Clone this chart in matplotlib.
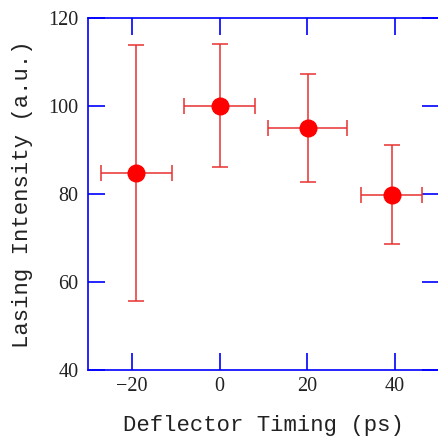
import numpy as np
import matplotlib.pyplot as plt

# data
timing = [-19, 0, 20.1, 39.2]
timing_err = [8.1, 8.1, 9.0, 7.0]
intensity = [84.7, 100.0, 95.1, 79.8]
err_up = [29.2, 14.1, 12.2, 11.3]
err_down = [29.0, 13.9, 12.3, 11.2]

fig = plt.figure(figsize=(4.39, 4.37), dpi=100)
ax = fig.add_axes([0.2005, 0.1533, 0.7995, 0.8055])

ax.errorbar(timing, intensity, xerr=timing_err, yerr=[err_down, err_up],
            fmt='o', color='red', ecolor='#e83030', elinewidth=1.1,
            capsize=6, capthick=1.1, markersize=12)

ax.set_xlim(-30, 50)
ax.set_ylim(40, 120)
ax.set_xticks([-20, 0, 20, 40])
ax.set_yticks([40, 60, 80, 100, 120])

for sp in ax.spines.values():
    sp.set_color('blue')
    sp.set_linewidth(1.2)

ax.tick_params(direction='in', length=12, width=1.2, color='blue',
               top=True, right=True, labelsize=14.5)
ax.tick_params(axis='y', pad=7)
ax.tick_params(axis='x', pad=5)
for lab in ax.get_xticklabels() + ax.get_yticklabels():
    lab.set_family('Liberation Serif')
    lab.set_color('#222222')

ax.set_xlabel('Deflector Timing (ps)', family='Liberation Mono', fontsize=16,
              color='#222222', labelpad=14)
ax.set_ylabel('Lasing Intensity (a.u.)', family='Liberation Mono', fontsize=16,
              color='#222222', labelpad=11)

fig.savefig('out.png', dpi=100)
